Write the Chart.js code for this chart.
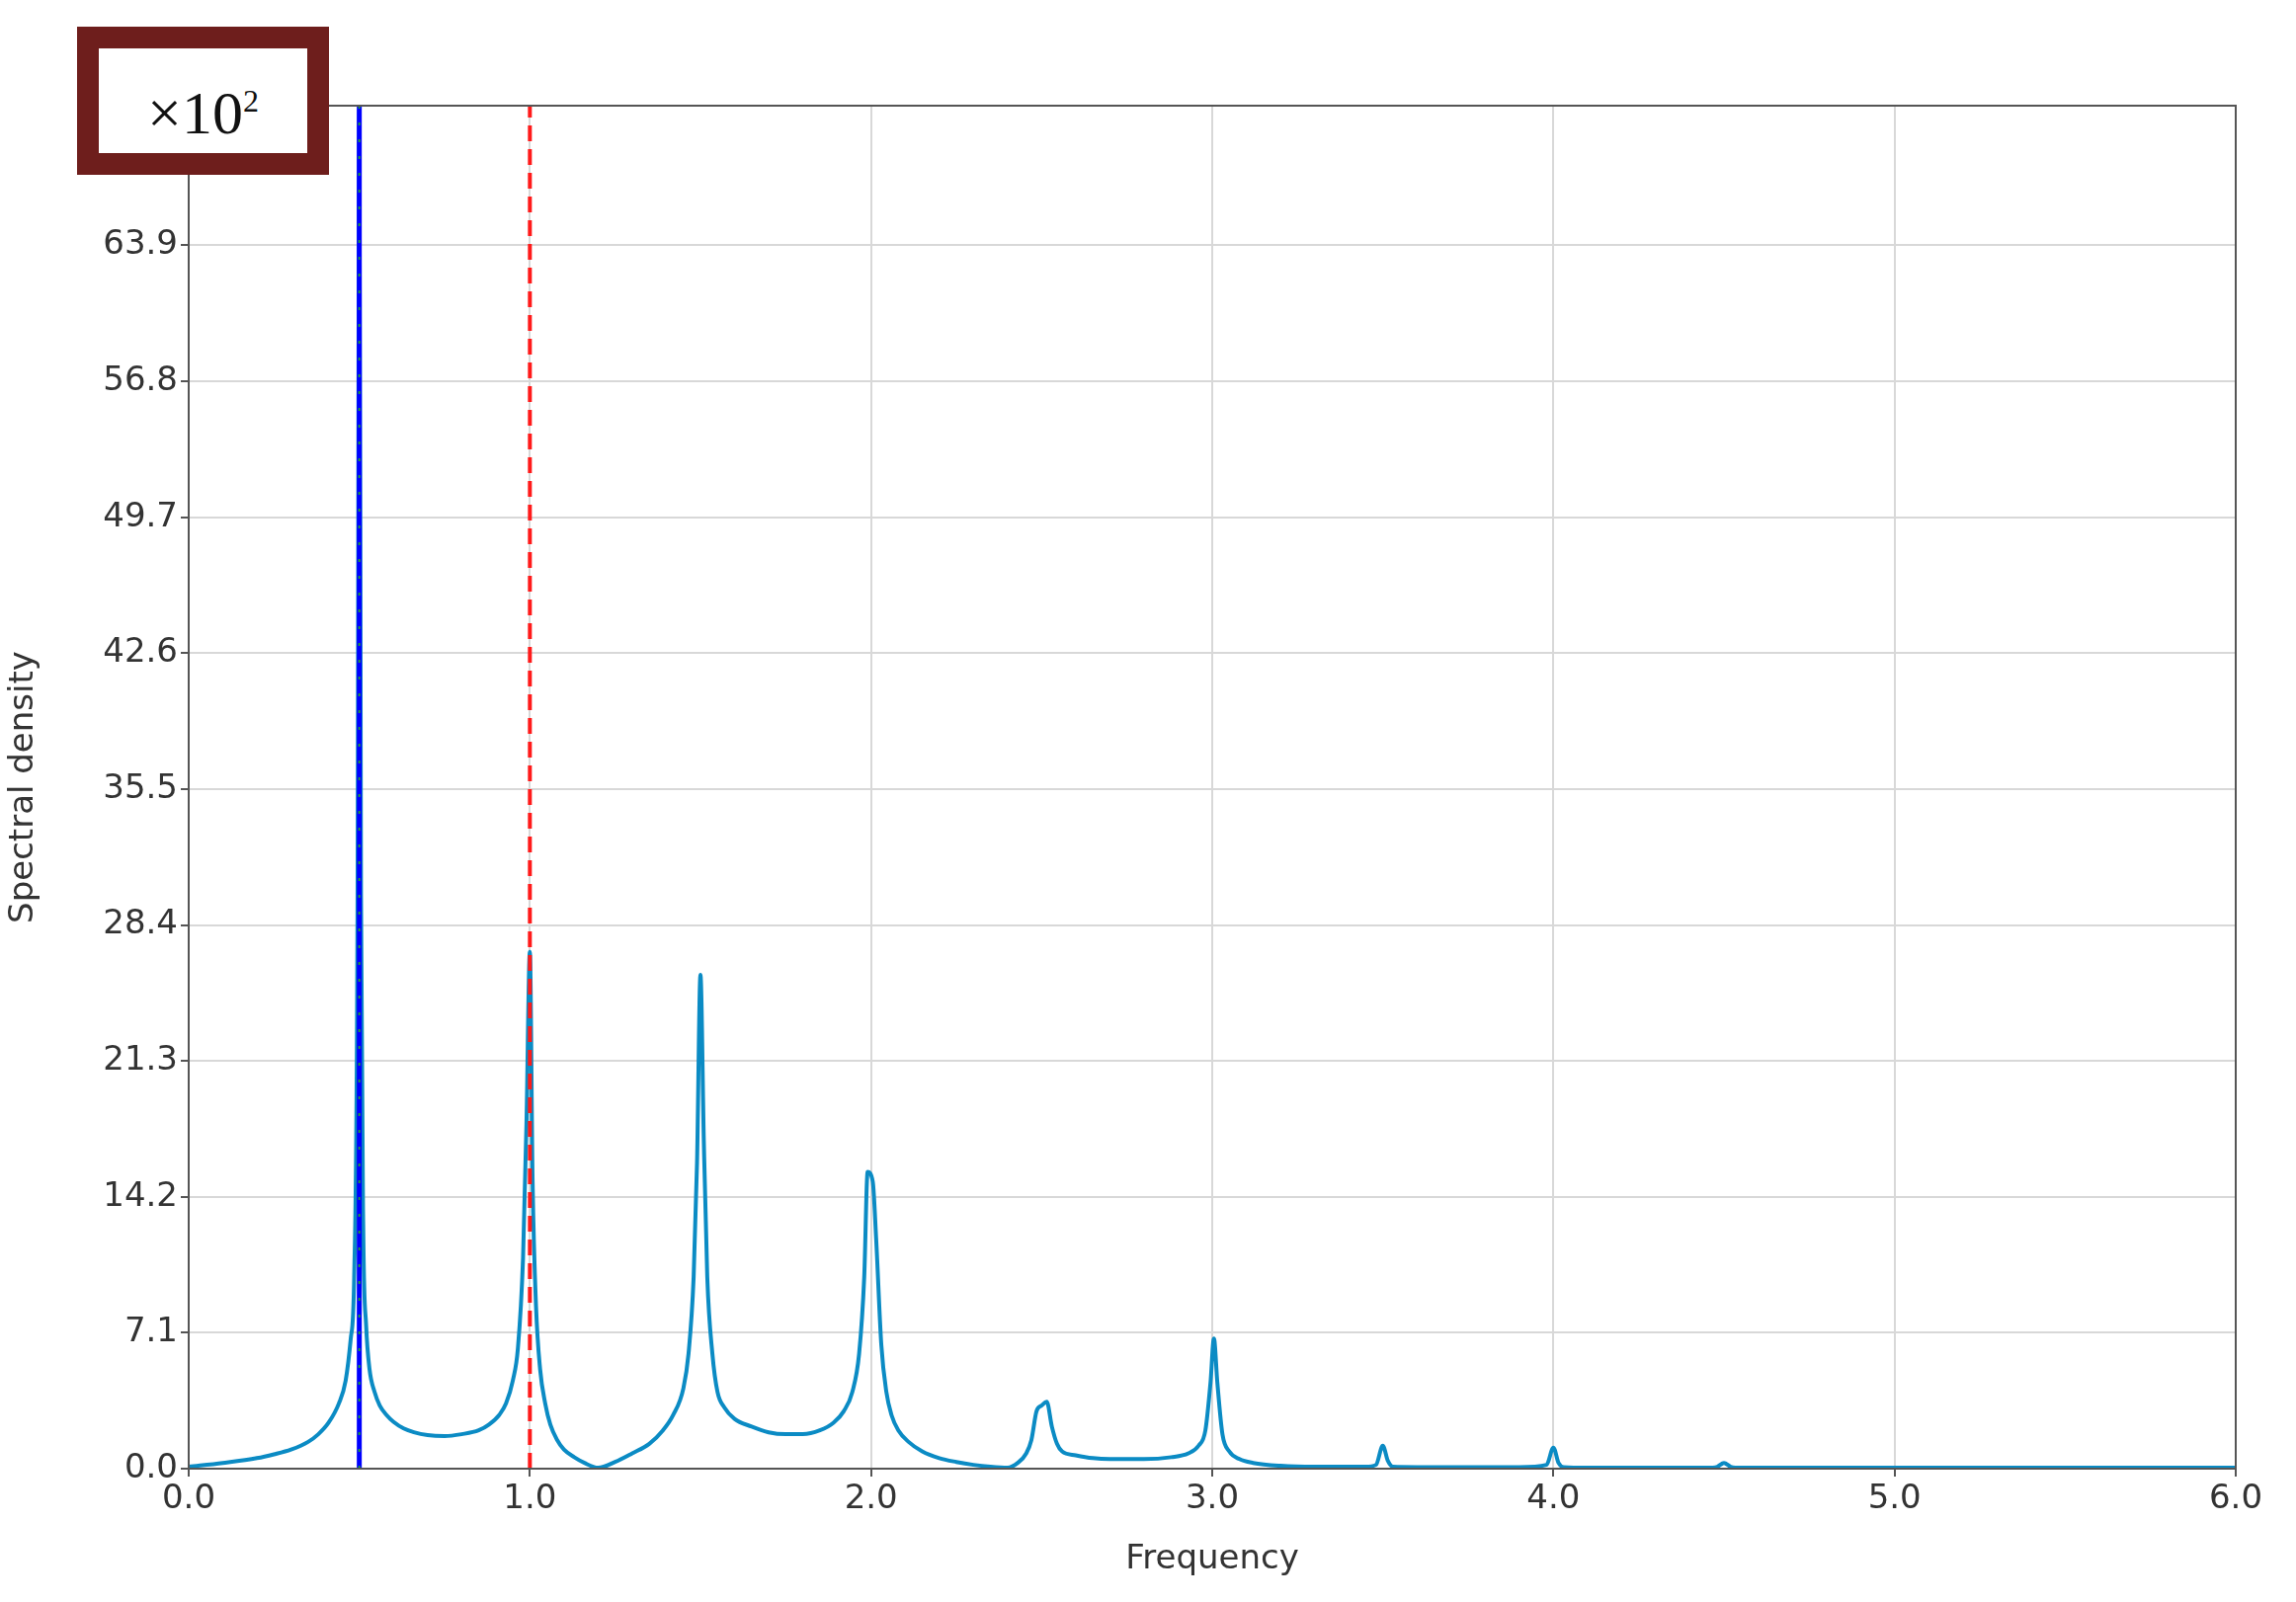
<!DOCTYPE html>
<html>
<head>
<meta charset="utf-8">
<script src="https://cdn.jsdelivr.net/npm/chart.js@4"></script>
<style>
  body { margin: 0; background: #fff; }
  #wrap { position: relative; width: 2324px; height: 1622px; }
  #scale { position: absolute; left: 78px; top: 27px; width: 211px; height: 106px; border: 22px solid #6e1e1c;
    font-family: "Liberation Serif", serif; font-size: 62px; line-height: 106px; text-align: center; color: #111; background: #fff; }
  #scale sup { font-size: 32px; }
</style>
</head>
<body>
<div id="wrap">
  <canvas id="c" width="2324" height="1622"></canvas>
  <div id="scale">&times;10<sup>2</sup></div>
</div>
<script>
// spectrum, values in units of 10^2
var freq = [0, 0.1, 0.2, 0.25, 0.3, 0.35, 0.38, 0.41, 0.44, 0.46, 0.475, 0.485, 0.495, 0.5, 0.505, 0.512, 0.52, 0.53, 0.545, 0.56, 0.58, 0.6, 0.63, 0.66, 0.7, 0.75, 0.8, 0.85, 0.88, 0.91, 0.93, 0.95, 0.965, 0.98, 0.99, 1.0, 1.008, 1.018, 1.03, 1.045, 1.06, 1.08, 1.1, 1.13, 1.16, 1.2, 1.25, 1.3, 1.35, 1.39, 1.42, 1.45, 1.465, 1.48, 1.49, 1.5, 1.51, 1.52, 1.535, 1.55, 1.57, 1.6, 1.65, 1.7, 1.75, 1.8, 1.85, 1.89, 1.92, 1.945, 1.965, 1.98, 1.99, 2.005, 2.015, 2.03, 2.045, 2.06, 2.08, 2.11, 2.15, 2.2, 2.25, 2.3, 2.35, 2.4, 2.43, 2.455, 2.47, 2.485, 2.5, 2.515, 2.53, 2.545, 2.56, 2.6, 2.65, 2.7, 2.8, 2.88, 2.93, 2.96, 2.98, 2.995, 3.005, 3.015, 3.03, 3.05, 3.08, 3.12, 3.2, 3.3, 3.45, 3.48, 3.5, 3.515, 3.53, 3.6, 3.9, 3.98, 4.0, 4.015, 4.03, 4.1, 4.45, 4.48, 4.5, 4.52, 4.55, 5.0, 6.0];
var density = [0.1, 0.3, 0.55, 0.75, 1.0, 1.4, 1.8, 2.4, 3.4, 4.6, 6.8, 10, 30, 71, 30, 12, 7.5, 5.2, 4.0, 3.3, 2.8, 2.45, 2.1, 1.9, 1.75, 1.7, 1.8, 2.0, 2.3, 2.8, 3.4, 4.6, 6.3, 11, 18, 27, 15, 8.5, 5.2, 3.4, 2.3, 1.5, 1.0, 0.6, 0.3, 0.05, 0.35, 0.8, 1.3, 2.0, 2.8, 4.2, 6, 10, 16, 25.8, 17, 10, 6, 4.0, 3.2, 2.6, 2.2, 1.9, 1.8, 1.8, 2.0, 2.4, 3.0, 4.0, 6.0, 10, 15.5, 15, 12, 6.5, 4.0, 2.8, 2.0, 1.4, 0.9, 0.55, 0.35, 0.2, 0.1, 0.05, 0.3, 0.8, 1.5, 3.0, 3.3, 3.5, 2.2, 1.3, 0.9, 0.7, 0.55, 0.5, 0.5, 0.6, 0.8, 1.2, 2.0, 4.5, 6.8, 4.5, 1.8, 0.9, 0.5, 0.3, 0.15, 0.1, 0.1, 0.2, 1.2, 0.4, 0.1, 0.08, 0.08, 0.2, 1.1, 0.3, 0.08, 0.05, 0.05, 0.1, 0.3, 0.1, 0.05, 0.05, 0.05];
var yTicks = [0, 7.1, 14.2, 21.3, 28.4, 35.5, 42.6, 49.7, 56.8, 63.9];
var xTicks = [0, 1, 2, 3, 4, 5, 6];
var blueLineX = 0.5, redLineX = 1.0, yMax = 71.2;

var pts = freq.map(function (f, i) { return { x: f, y: density[i] }; });

var frame = {
  id: 'frame',
  afterDraw: function (ch) {
    var a = ch.chartArea, ctx = ch.ctx;
    ctx.save();
    ctx.strokeStyle = '#555';
    ctx.lineWidth = 2;
    ctx.strokeRect(a.left, a.top, a.right - a.left, a.bottom - a.top);
    ctx.restore();
  }
};

new Chart(document.getElementById('c'), {
  type: 'scatter',
  data: {
    datasets: [
      { data: pts, showLine: true, borderColor: '#0b8bc4', borderWidth: 4, pointRadius: 0, cubicInterpolationMode: 'monotone', order: 2 },
      { data: [{ x: blueLineX, y: 0 }, { x: blueLineX, y: yMax }], showLine: true, borderColor: '#0000ff', borderWidth: 5, pointRadius: 0, order: 1 },
      { data: [{ x: blueLineX, y: 0 }, { x: blueLineX, y: yMax }], showLine: true, borderColor: '#1a9a3a', borderWidth: 2, borderDash: [3, 14], pointRadius: 0, order: 0 },
      { data: [{ x: redLineX, y: 0 }, { x: redLineX, y: yMax }], showLine: true, borderColor: '#ff1a1a', borderWidth: 4, borderDash: [16, 8], pointRadius: 0, order: 1 }
    ]
  },
  options: {
    responsive: false,
    animation: false,
    layout: { padding: { top: 107, right: 61, left: 0, bottom: 0 } },
    plugins: { legend: { display: false }, tooltip: { enabled: false } },
    scales: {
      x: {
        min: 0, max: 6,
        afterBuildTicks: function (s) { s.ticks = xTicks.map(function (v) { return { value: v }; }); },
        afterFit: function (s) { s.height = 135; },
        grid: { color: '#d8d8d8', lineWidth: 2, tickLength: 8, tickColor: '#555' },
        border: { color: '#555', width: 2 },
        ticks: { color: '#333', font: { family: 'DejaVu Sans', size: 34 }, maxRotation: 0, callback: function (v) { return v.toFixed(1); } },
        title: { display: true, text: 'Frequency', color: '#333', font: { family: 'DejaVu Sans', size: 34 }, padding: { top: 0, bottom: 22 } }
      },
      y: {
        min: 0, max: yMax,
        afterBuildTicks: function (s) { s.ticks = yTicks.map(function (v) { return { value: v }; }); },
        afterFit: function (s) { s.width = 191; },
        grid: { color: '#d8d8d8', lineWidth: 2, tickLength: 8, tickColor: '#555' },
        border: { color: '#555', width: 2 },
        ticks: { color: '#333', font: { family: 'DejaVu Sans', size: 34 }, callback: function (v) { return v.toFixed(1); } },
        title: { display: true, text: 'Spectral density', color: '#333', font: { family: 'DejaVu Sans', size: 34 } }
      }
    }
  },
  plugins: [frame]
});
</script>
</body>
</html>
